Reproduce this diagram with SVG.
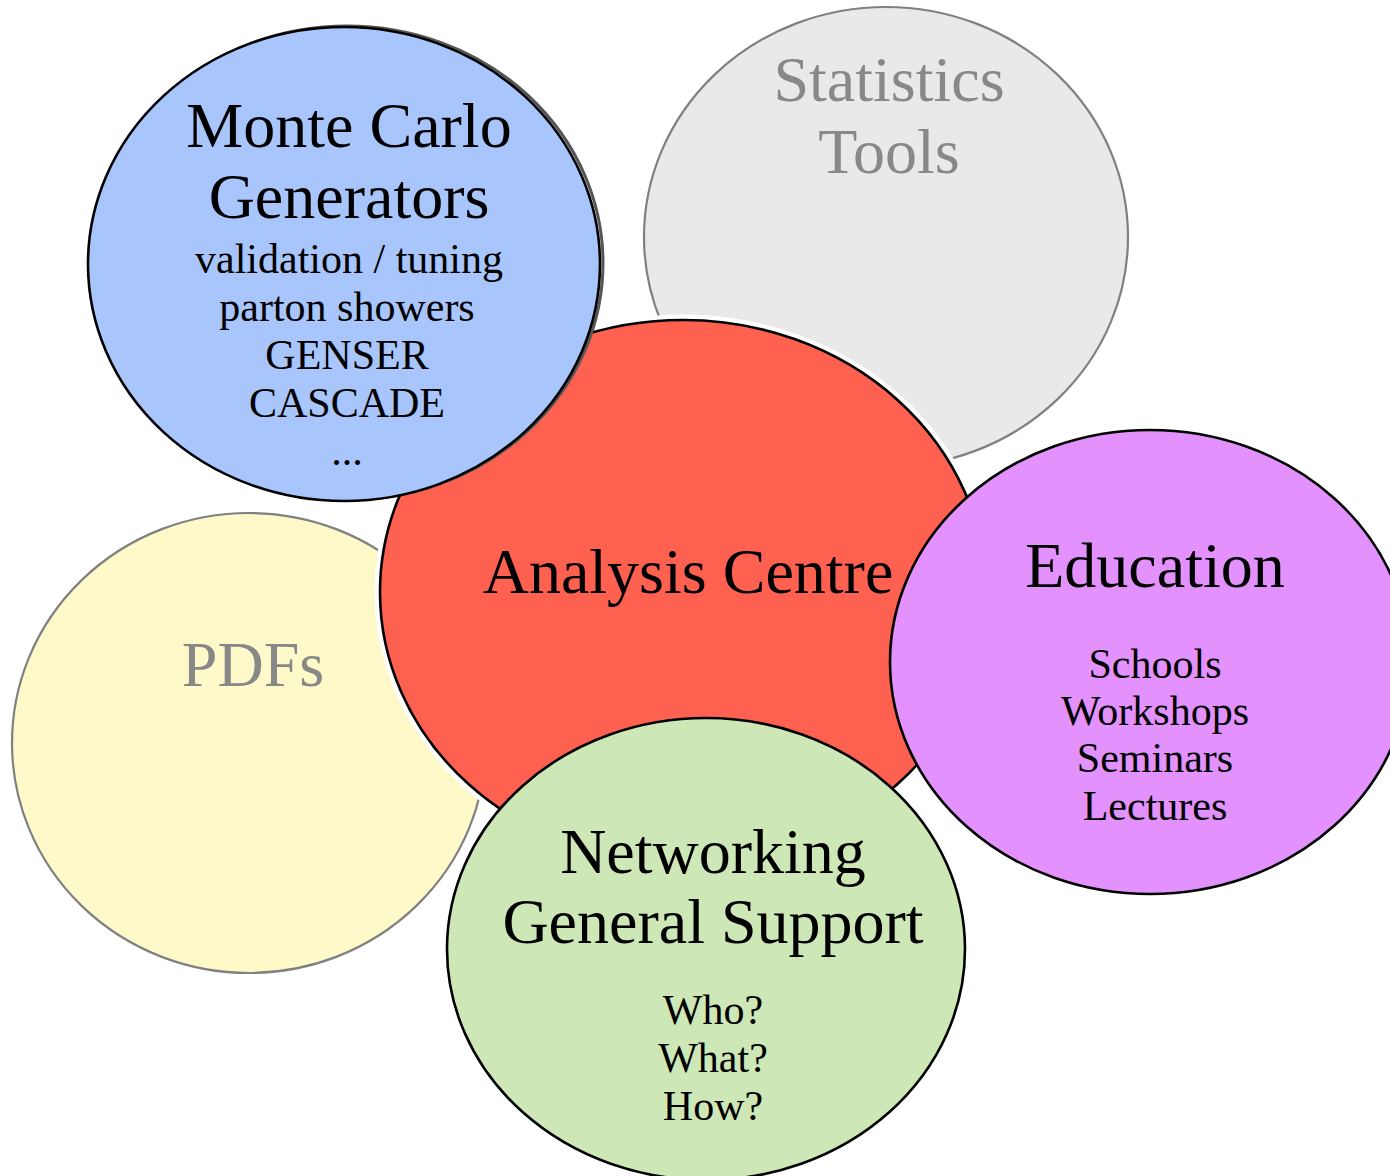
<svg xmlns="http://www.w3.org/2000/svg" width="1390" height="1176" viewBox="0 0 1390 1176">
<style>
text{font-family:"Liberation Serif","Times New Roman",serif;text-anchor:middle}
.big{font-size:64px;fill:#000}
.sm{font-size:42px;fill:#000}
.gbig{font-size:64px;fill:#888}
.pale{stroke:#808080;stroke-width:2.2}
.halo{fill:none;stroke:#fff;stroke-width:11}
.dark{stroke:#000;stroke-width:2.6}
</style>
<rect width="1390" height="1176" fill="#fff"/>
<g id="statistics">
<ellipse cx="886" cy="237" rx="242" ry="230" fill="#e9e9e9" class="pale"/>
<text class="gbig" x="889" y="101">Statistics</text>
<text class="gbig" x="889" y="173">Tools</text>
</g>
<g id="pdfs">
<ellipse cx="249" cy="743" rx="237" ry="230" fill="#fdf9c9" class="pale"/>
<text class="gbig" x="253" y="686">PDFs</text>
</g>
<g id="halos">
<ellipse cx="683" cy="592" rx="303" ry="272" class="halo"/>
<ellipse cx="1150" cy="662" rx="260" ry="232" class="halo"/>
<ellipse cx="706" cy="949" rx="259" ry="231" class="halo"/>
</g>
<g id="analysis">
<ellipse cx="683" cy="592" rx="303" ry="272" fill="#fe6150" class="dark"/>
<text class="big" x="688" y="593">Analysis Centre</text>
</g>
<g id="montecarlo">
<ellipse cx="347" cy="263" rx="256" ry="237" fill="none" stroke="#555" stroke-width="3"/>
<ellipse cx="344" cy="264" rx="256" ry="237" fill="#a8c5fc" class="dark"/>
<text class="big" x="349" y="147">Monte Carlo</text>
<text class="big" x="349" y="218">Generators</text>
<text class="sm" x="349" y="273">validation / tuning</text>
<text class="sm" x="347" y="321">parton showers</text>
<text class="sm" x="347" y="369">GENSER</text>
<text class="sm" x="347" y="417">CASCADE</text>
<text class="sm" x="347" y="465">...</text>
</g>
<g id="education">
<ellipse cx="1150" cy="662" rx="260" ry="232" fill="#e291fd" class="dark"/>
<text class="big" x="1155" y="587">Education</text>
<text class="sm" x="1155" y="678">Schools</text>
<text class="sm" x="1155" y="725">Workshops</text>
<text class="sm" x="1155" y="772">Seminars</text>
<text class="sm" x="1155" y="820">Lectures</text>
</g>
<g id="networking">
<ellipse cx="706" cy="949" rx="259" ry="231" fill="#cde7b6" class="dark"/>
<text class="big" x="713" y="873">Networking</text>
<text class="big" x="713" y="943">General Support</text>
<text class="sm" x="713" y="1024">Who?</text>
<text class="sm" x="713" y="1072">What?</text>
<text class="sm" x="713" y="1120">How?</text>
</g>
<g id="connectors"></g>
</svg>
